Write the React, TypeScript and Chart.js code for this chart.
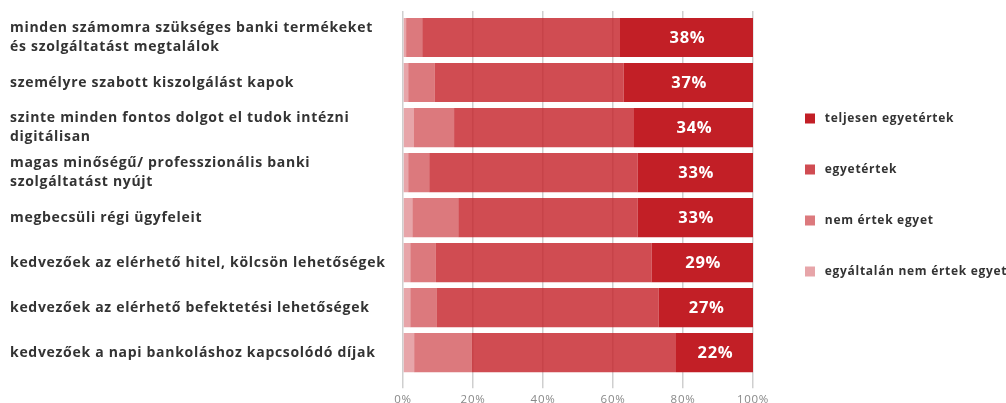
import { useEffect, useRef } from "react";
import { Chart, registerables } from "chart.js";

Chart.register(...registerables);

const categories: (string | string[])[] = [
  ["minden számomra szükséges banki termékeket", "és szolgáltatást megtalálok"],
  "személyre szabott kiszolgálást kapok",
  ["szinte minden fontos dolgot el tudok intézni", "digitálisan"],
  ["magas minőségű/ professzionális banki", "szolgáltatást nyújt"],
  "megbecsüli régi ügyfeleit",
  "kedvezőek az elérhető hitel, kölcsön lehetőségek",
  "kedvezőek az elérhető befektetési lehetőségek",
  "kedvezőek a napi bankoláshoz kapcsolódó díjak",
];

const seriesNames = [
  "egyáltalán nem értek egyet",
  "nem értek egyet",
  "egyetértek",
  "teljesen egyetértek",
];

const stronglyDisagree = [0.9, 1.5, 3.1, 1.5, 2.7, 2.1, 2.1, 3.2];
const disagree = [4.6, 7.6, 11.5, 6.0, 13.1, 7.3, 7.6, 16.5];
const agree = [56.5, 53.9, 51.4, 59.5, 51.2, 61.6, 63.3, 58.3];
const stronglyAgree = [38, 37, 34, 33, 33, 29, 27, 22];

const xTickValues = [0, 20, 40, 60, 80, 100];

const seriesColors = [
  "rgba(196,31,39,0.4)",
  "rgba(196,31,39,0.6)",
  "rgba(196,31,39,0.8)",
  "rgb(194,31,38)",
];

const FONT = "'Open Sans', sans-serif";
const SPACING = "0.7px";

const letterSpacing = {
  id: "letterSpacing",
  beforeUpdate(chart: any) {
    chart.ctx.letterSpacing = SPACING;
  },
  beforeDraw(chart: any) {
    chart.ctx.letterSpacing = SPACING;
  },
};

const valueLabels = {
  id: "valueLabels",
  afterDatasetsDraw(chart: any) {
    const ctx = chart.ctx;
    const meta = chart.getDatasetMeta(3);
    ctx.save();
    ctx.letterSpacing = SPACING;
    ctx.font = `bold 16.5px ${FONT}`;
    ctx.fillStyle = "#ffffff";
    ctx.textAlign = "center";
    ctx.textBaseline = "middle";
    meta.data.forEach((el: any, i: number) => {
      const p = el.getProps(["x", "base", "y"], true);
      ctx.fillText(`${stronglyAgree[i]}%`, (p.x + p.base) / 2 + 1, p.y + 1);
    });
    ctx.restore();
  },
};

export default function App() {
  const ref = useRef<HTMLCanvasElement | null>(null);

  useEffect(() => {
    if (!ref.current) return;
    const values = [stronglyDisagree, disagree, agree, stronglyAgree];
    const chart = new Chart(ref.current, {
      type: "bar",
      data: {
        labels: categories,
        datasets: seriesNames.map((name, i) => ({
          label: name,
          data: values[i],
          backgroundColor: seriesColors[i],
          borderWidth: 0,
          barPercentage: 0.87,
          categoryPercentage: 1,
        })),
      },
      options: {
        indexAxis: "y",
        responsive: false,
        animation: false,
        layout: { padding: { top: 11, left: 10, right: 0, bottom: 0 } },
        font: { family: FONT },
        scales: {
          x: {
            type: "linear",
            stacked: true,
            min: 0,
            max: 100,
            position: "bottom",
            afterBuildTicks: (s: any) => {
              s.ticks = xTickValues.map((v) => ({ value: v }));
            },
            grid: {
              color: "#cfcfcf",
              lineWidth: 1.5,
              drawTicks: true,
              tickLength: 13,
            },
            border: { display: false },
            ticks: {
              padding: 5,
              color: "#888888",
              font: { family: FONT, size: 11.5 },
              callback: (v: any) => `${v}%`,
            },
          },
          x2: {
            type: "linear",
            min: 0,
            max: 100,
            position: "top",
            display: true,
            afterBuildTicks: (s: any) => {
              s.ticks = xTickValues.map((v) => ({ value: v }));
            },
            grid: {
              color: "#cfcfcf",
              lineWidth: 1.5,
              drawOnChartArea: false,
              drawTicks: true,
              tickLength: 4,
            },
            border: { display: false },
            ticks: { display: false },
          },
          y: {
            type: "category",
            stacked: true,
            position: "left",
            grid: { display: false },
            border: { display: false },
            afterFit: (s: any) => {
              s.width = 393;
            },
            ticks: {
              crossAlign: "far",
              autoSkip: false,
              color: "#333333",
              font: { family: FONT, size: 14, weight: "bold", lineHeight: 1.3 },
            },
          },
          ySpacer: {
            type: "category",
            position: "right",
            display: true,
            grid: { display: false },
            border: { display: false },
            ticks: { display: false },
            afterFit: (s: any) => {
              s.width = 13;
            },
          },
        },
        plugins: {
          legend: {
            position: "right",
            fullSize: false,
            reverse: true,
            maxWidth: 250,
            labels: {
              boxWidth: 10,
              boxHeight: 10,
              padding: 39,
              color: "#333333",
              font: { family: FONT, size: 12, weight: "bold" },
              generateLabels: (c: any) => {
                const items = Chart.defaults.plugins.legend.labels.generateLabels(c);
                return items.map((it: any) => ({ ...it, text: ` ${it.text}` }));
              },
            },
          },
          tooltip: { enabled: false },
        },
      },
      plugins: [letterSpacing, valueLabels],
    } as any);
    return () => chart.destroy();
  }, []);

  return (
    <div
      style={{
        position: "absolute",
        left: 0,
        top: 0,
        width: 1006,
        height: 403,
        overflow: "hidden",
        background: "#ffffff",
      }}
    >
      <canvas ref={ref} width={1016} height={412} style={{ display: "block" }} />
    </div>
  );
}
